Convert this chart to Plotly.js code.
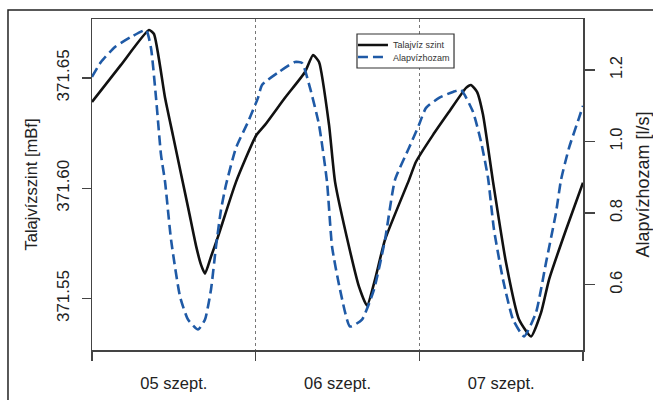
<!DOCTYPE html>
<html>
<head>
<meta charset="utf-8">
<script src="https://cdn.plot.ly/plotly-3.0.1.min.js"></script>
<style>html,body{margin:0;padding:0;background:#fff;}#chart{width:653px;height:400px;}</style>
</head>
<body>
<div id="chart"></div>
<script>
// hours since 05 szept. 00:00
const hoursLevel = [0, 4.25, 8.36, 9.09, 10.71, 11.88, 13.05, 14.22, 15.25, 15.98, 16.57, 17.45, 18.48, 21.12, 24.05, 25.37, 28.30, 31.24, 32.41, 33.29, 34.76, 35.64, 37.69, 39.15, 40.33, 41.50, 42.97, 46.49, 47.51, 50.01, 52.35, 54.85, 55.58, 56.46, 57.34, 58.81, 60.71, 62.62, 64.38, 65.85, 67.02, 69.51, 72.0];
const groundwaterLevel = [371.6391, 371.6559, 371.6717, 371.6699, 371.6410, 371.6238, 371.6066, 371.5894, 371.5740, 371.5654, 371.5613, 371.5690, 371.5781, 371.6029, 371.6238, 371.6287, 371.6410, 371.6527, 371.6604, 371.6572, 371.6287, 371.6029, 371.5735, 371.5554, 371.5468, 371.5586, 371.5767, 371.6038, 371.6120, 371.6242, 371.6346, 371.6455, 371.6468, 371.6437, 371.6333, 371.6029, 371.5663, 371.5405, 371.5328, 371.5436, 371.5586, 371.5812, 371.6025];

const hoursFlow = [0, 1.32, 3.37, 5.72, 7.92, 8.65, 9.39, 10.12, 10.71, 11.59, 12.91, 14.08, 15.55, 16.57, 17.45, 18.18, 18.92, 19.65, 21.12, 22.88, 24.34, 24.93, 27.42, 29.77, 30.80, 31.97, 33.29, 34.46, 35.20, 36.37, 37.83, 39.59, 41.35, 42.97, 44.43, 46.49, 47.95, 48.98, 50.89, 52.94, 54.11, 55.87, 57.05, 58.07, 58.95, 60.27, 61.74, 63.35, 65.11, 66.58, 68.04, 68.78, 69.95, 71.42, 72.0];
const baseflow = [1.1804, 1.2223, 1.2641, 1.2920, 1.3115, 1.2613, 1.1219, 0.9629, 0.8876, 0.7258, 0.5669, 0.5028, 0.4749, 0.5028, 0.5865, 0.7064, 0.8095, 0.8792, 0.9824, 1.0549, 1.1219, 1.1581, 1.1944, 1.2223, 1.2195, 1.1498, 1.0466, 0.8876, 0.7064, 0.5865, 0.4833, 0.5028, 0.5865, 0.7258, 0.8932, 0.9824, 1.0466, 1.0940, 1.1219, 1.1386, 1.1442, 1.0828, 0.9992, 0.8988, 0.7537, 0.6143, 0.5028, 0.4554, 0.5224, 0.6618, 0.8012, 0.8932, 0.9824, 1.0661, 1.0996];

const dayBounds = [0, 24, 48, 72];
const dayCenters = [12, 36, 60];
const dayLabels = ['05 szept.', '06 szept.', '07 szept.'];
const levelTicks = [371.55, 371.60, 371.65];
const flowTicks = [0.6, 0.8, 1.0, 1.2];

const FONT = 'Liberation Sans, Arial, Helvetica, sans-serif';
const AX = '#444';
const TXT = '#222';

const traces = [
  {x: hoursLevel, y: groundwaterLevel, type: 'scatter', mode: 'lines', name: 'Talajvíz szint',
   line: {color: '#111', width: 2.6, shape: 'spline', smoothing: 0.5}, yaxis: 'y', legend: 'legend'},
  {x: hoursFlow, y: baseflow, type: 'scatter', mode: 'lines', name: 'Alapvízhozam',
   line: {color: '#1f5aa6', width: 2.6, dash: '10px,5px', shape: 'spline', smoothing: 0.5}, yaxis: 'y2', legend: 'legend2'}
];

const legendBase = {xanchor: 'left', yanchor: 'middle', borderwidth: 0, bgcolor: 'rgba(0,0,0,0)',
  font: {family: FONT, size: 9, color: '#333'}, itemwidth: 30};

const layout = {
  width: 653, height: 400,
  margin: {l: 92, r: 70, t: 19, b: 50, pad: 0},
  paper_bgcolor: '#fff', plot_bgcolor: '#fff',
  font: {family: FONT, color: TXT},
  showlegend: true,
  legend: Object.assign({}, legendBase, {x: 0.5315, y: 0.9215}),
  legend2: Object.assign({}, legendBase, {x: 0.5315, y: 0.8852}),
  xaxis: {range: [0, 72], tickmode: 'array', tickvals: dayCenters, ticktext: dayLabels,
    ticks: '', showgrid: false, zeroline: false, showline: true, mirror: true,
    linecolor: AX, linewidth: 1.5, tickfont: {size: 16.5, color: TXT}, ticklabelstandoff: 18,
    minor: {tickmode: 'array', tickvals: dayBounds, ticks: 'outside', ticklen: 9, tickwidth: 1.5,
      tickcolor: AX, showgrid: true, gridcolor: '#777', griddash: 'dot', gridwidth: 1.5},
    fixedrange: true},
  yaxis: {range: [371.5267, 371.6767], tickmode: 'array', tickvals: levelTicks,
    ticktext: levelTicks.map(v => v.toFixed(2)), ticks: 'outside', ticklen: 9, tickwidth: 1.5,
    tickcolor: AX, tickangle: -90, tickfont: {size: 17, color: TXT}, ticklabelstandoff: 6,
    showgrid: false, zeroline: false, showline: true, linecolor: AX, linewidth: 1.5,
    title: {text: 'Talajvízszint [mBf]', font: {size: 16.5, color: TXT}, standoff: 12},
    automargin: false, fixedrange: true},
  yaxis2: {range: [0.4177, 1.3422], overlaying: 'y', side: 'right', tickmode: 'array',
    tickvals: flowTicks, ticktext: flowTicks.map(v => v.toFixed(1)), ticks: 'outside', ticklen: 10,
    tickwidth: 1.5, tickcolor: AX, tickangle: -90, tickfont: {size: 16.5, color: TXT}, ticklabelstandoff: 8,
    showgrid: false, zeroline: false, showline: true, linecolor: AX, linewidth: 1.5,
    title: {text: 'Alapvízhozam [l/s]', font: {size: 18, color: TXT}, standoff: 29},
    automargin: false, fixedrange: true},
  shapes: [
    {type: 'rect', xref: 'paper', yref: 'paper', x0: -0.1711, x1: 1.3, y0: -0.3, y1: 1.0272,
     line: {color: '#222', width: 1.5}, fillcolor: 'rgba(0,0,0,0)', layer: 'below'},
    {type: 'rect', xref: 'paper', yref: 'paper', x0: 0.5397, x1: 0.7373, y0: 0.8520, y1: 0.9547,
     line: {color: '#333', width: 1.2}, fillcolor: '#fff', layer: 'above'}
  ]
};

Plotly.newPlot('chart', traces, layout, {staticPlot: true, displayModeBar: false});
</script>
</body>
</html>
